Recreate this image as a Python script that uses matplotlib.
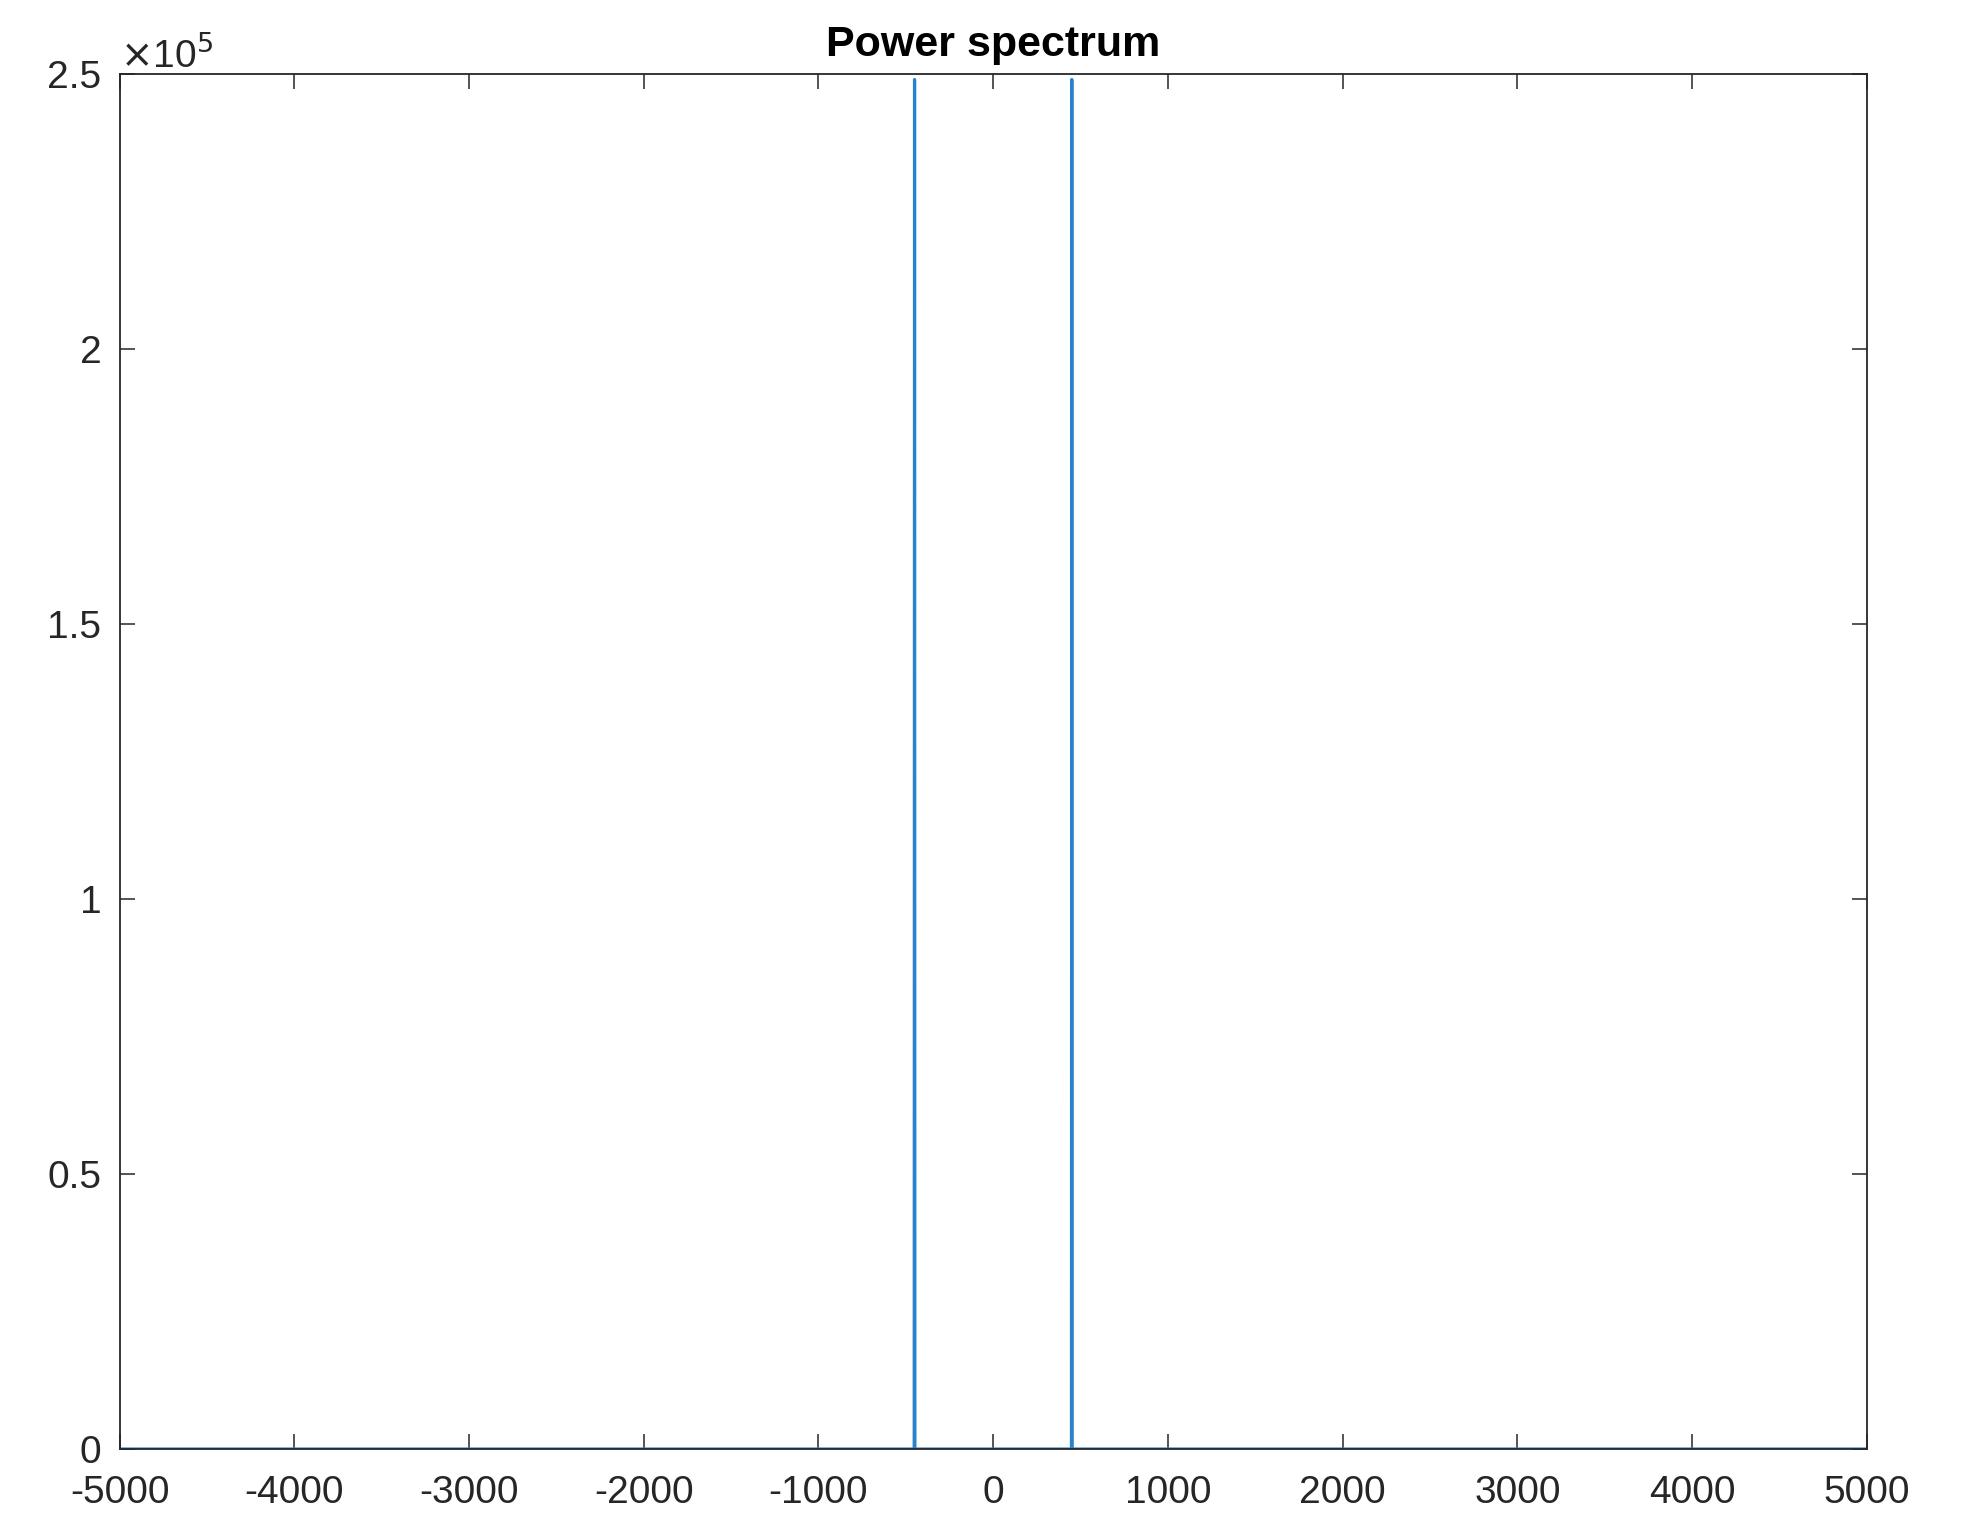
import numpy as np
import matplotlib
matplotlib.use("Agg")
import matplotlib.pyplot as plt
from matplotlib.ticker import FuncFormatter, MultipleLocator

plt.rcParams['font.family'] = ['Liberation Sans', 'DejaVu Sans']
plt.rcParams['axes.unicode_minus'] = False

# spectrum: flat zero with two spikes near +-450 Hz
freq = [-5000, -452, -450, -448, 448, 450, 452, 5000]
power = [0, 0, 2.49e5, 0, 0, 2.49e5, 0, 0]

x_ticks = list(range(-5000, 5001, 1000))
y_ticks = [0, 0.5e5, 1e5, 1.5e5, 2e5, 2.5e5]

AX_COLOR = '#262626'
LINE_COLOR = '#2a82cc'

fig = plt.figure(figsize=(19.63, 15.2), dpi=100)
ax = fig.add_axes([0.0609, 0.0467, 0.8901, 0.9046])

ax.plot(freq, power, color=LINE_COLOR, linewidth=2.3)

ax.set_xlim(-5000, 5000)
ax.set_ylim(0, 2.5e5)
ax.set_xticks(x_ticks)
ax.set_yticks(y_ticks)
ax.yaxis.set_major_formatter(FuncFormatter(lambda v, p: f"{v / 1e5:g}"))

ax.tick_params(direction='in', length=11, width=1.1, colors=AX_COLOR,
               labelsize=28, top=True, right=True, pad=13)
ax.tick_params(axis='x', pad=19)
for sp in ax.spines.values():
    sp.set_color(AX_COLOR)
    sp.set_linewidth(1.3)

# scale factor shown above the y axis, MATLAB style
ax.text(0.0, 0.999, r'$\times$10$^5$', transform=ax.transAxes,
        fontsize=28, color=AX_COLOR, ha='left', va='bottom')

ax.set_title('Power spectrum', fontsize=31, fontweight='bold', pad=13)

plt.savefig('out.png', dpi=100)
